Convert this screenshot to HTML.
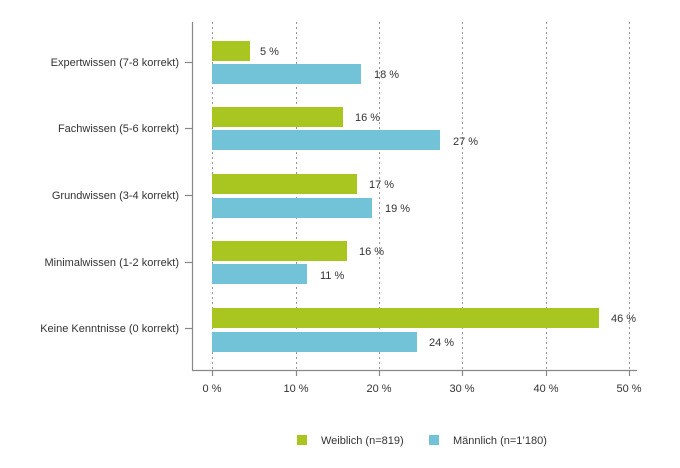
<!DOCTYPE html>
<html><head><style>
body{margin:0;background:#fff;}
svg text{font-family:"Liberation Sans",sans-serif;font-size:11px;fill:#333;}
</style></head><body>
<svg width="680" height="463" xmlns="http://www.w3.org/2000/svg">
<g stroke="#999" stroke-dasharray="2,3" stroke-width="1">
<line x1="212.5" y1="22" x2="212.5" y2="370"/>
<line x1="296.5" y1="22" x2="296.5" y2="370"/>
<line x1="379.5" y1="22" x2="379.5" y2="370"/>
<line x1="462.5" y1="22" x2="462.5" y2="370"/>
<line x1="546.5" y1="22" x2="546.5" y2="370"/>
<line x1="629.5" y1="22" x2="629.5" y2="370"/>
</g>
<g stroke="#888" stroke-width="1.2">
<line x1="192.5" y1="22" x2="192.5" y2="370.5"/>
<line x1="192" y1="370.5" x2="637" y2="370.5"/>
<line x1="185" y1="62.5" x2="192" y2="62.5"/>
<line x1="185" y1="128.5" x2="192" y2="128.5"/>
<line x1="185" y1="195.5" x2="192" y2="195.5"/>
<line x1="185" y1="262.5" x2="192" y2="262.5"/>
<line x1="185" y1="328.5" x2="192" y2="328.5"/>
<line x1="212.5" y1="370" x2="212.5" y2="376"/>
<line x1="296.5" y1="370" x2="296.5" y2="376"/>
<line x1="379.5" y1="370" x2="379.5" y2="376"/>
<line x1="462.5" y1="370" x2="462.5" y2="376"/>
<line x1="546.5" y1="370" x2="546.5" y2="376"/>
<line x1="629.5" y1="370" x2="629.5" y2="376"/>
</g>
<g fill="#a8c520">
<rect x="212" y="41" width="38" height="20"/>
<rect x="212" y="107" width="131" height="20"/>
<rect x="212" y="174" width="145" height="20"/>
<rect x="212" y="241" width="135" height="20"/>
<rect x="212" y="308" width="387" height="20"/>
</g>
<g fill="#72c3d8">
<rect x="212" y="64" width="149" height="20"/>
<rect x="212" y="130" width="228" height="20"/>
<rect x="212" y="198" width="160" height="20"/>
<rect x="212" y="264" width="95" height="20"/>
<rect x="212" y="332" width="205" height="20"/>
</g>
<g text-anchor="end">
<text x="179" y="66">Expertwissen (7-8 korrekt)</text>
<text x="179" y="132">Fachwissen (5-6 korrekt)</text>
<text x="179" y="199">Grundwissen (3-4 korrekt)</text>
<text x="179" y="266">Minimalwissen (1-2 korrekt)</text>
<text x="179" y="332">Keine Kenntnisse (0 korrekt)</text>
</g>
<g font-size="10">
<text x="260" y="55">5 %</text>
<text x="374" y="78">18 %</text>
<text x="355" y="121">16 %</text>
<text x="453" y="145">27 %</text>
<text x="369" y="188">17 %</text>
<text x="385" y="212">19 %</text>
<text x="359" y="255">16 %</text>
<text x="320" y="279">11 %</text>
<text x="611" y="322">46 %</text>
<text x="429" y="346">24 %</text>
</g>
<g text-anchor="middle">
<text x="212" y="392">0 %</text>
<text x="296" y="392">10 %</text>
<text x="379" y="392">20 %</text>
<text x="462" y="392">30 %</text>
<text x="546" y="392">40 %</text>
<text x="629" y="392">50 %</text>
</g>
<rect x="297" y="435" width="10" height="10" fill="#a8c520"/>
<text x="321" y="444">Weiblich (n=819)</text>
<rect x="429" y="435" width="10" height="10" fill="#72c3d8"/>
<text x="453" y="444">Männlich (n=1’180)</text>
</svg>
</body></html>
